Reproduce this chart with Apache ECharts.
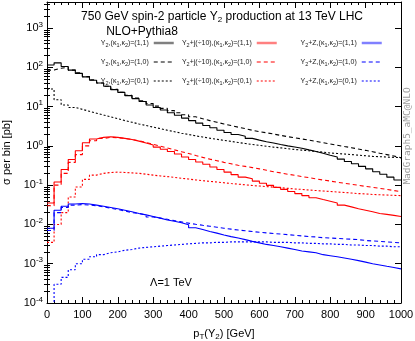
<!DOCTYPE html>
<html>
<head>
<meta charset="utf-8">
<script src="https://cdn.jsdelivr.net/npm/echarts@6.0.0/dist/echarts.min.js"></script>
<style>
  html, body { margin: 0; padding: 0; background: #fff; }
  #main { width: 415px; height: 341px; }
</style>
</head>
<body>
<div id="main"></div>
<script>
// bin edges: 20 GeV bins from 0 to 1000
var binEdges = [0, 20, 40, 60, 80, 100, 120, 140, 160, 180, 200, 220, 240, 260, 280, 300, 320, 340, 360, 380,
  400, 420, 440, 460, 480, 500, 520, 540, 560, 580, 600, 620, 640, 660, 680, 700, 720, 740, 760, 780,
  800, 820, 840, 860, 880, 900, 920, 940, 960, 980, 1000];

// Y2 alone
var y2_11 = [115, 130, 105, 85, 70, 57, 47, 40, 33, 27, 23, 19, 16, 13.5, 11, 9.5, 8.2, 7, 6, 5.1,
  4.4, 3.8, 3.3, 2.9, 2.5, 2.2, 1.95, 1.75, 1.55, 1.4, 1.28, 1.18, 1.08, 1.0, 0.94, 0.87, 0.79, 0.72, 0.65, 0.58,
  0.52, 0.46, 0.4, 0.35, 0.3, 0.26, 0.22, 0.19, 0.16, 0.135];
var y2_10 = [85, 95, 100, 85, 72, 58, 48, 40, 33, 27.5, 23, 19.5, 16.5, 14, 12, 10.3, 9, 7.9, 7, 6.2,
  5.5, 4.9, 4.4, 4.0, 3.6, 3.3, 3.0, 2.75, 2.5, 2.3, 2.15, 2.0, 1.85, 1.72, 1.6, 1.5, 1.4, 1.3, 1.2, 1.12,
  1.04, 0.96, 0.9, 0.83, 0.77, 0.71, 0.65, 0.6, 0.55, 0.5];
var y2_01 = [28, 15, 11, 9.5, 8.5, 7.6, 6.8, 6.1, 5.5, 4.9, 4.4, 4.0, 3.6, 3.3, 3.0, 2.75, 2.5, 2.3, 2.1, 1.95,
  1.8, 1.68, 1.57, 1.47, 1.38, 1.3, 1.22, 1.15, 1.09, 1.03, 0.98, 0.93, 0.89, 0.85, 0.81, 0.78, 0.75, 0.72, 0.69, 0.66,
  0.64, 0.62, 0.6, 0.58, 0.56, 0.54, 0.53, 0.52, 0.51, 0.5];

// Y2 + jet (divided by 10)
var y2j_11 = [0.035, 0.12, 0.25, 0.45, 0.75, 1.2, 1.5, 1.65, 1.7, 1.65, 1.55, 1.45, 1.32, 1.18, 1.05, 0.93, 0.82, 0.72, 0.62, 0.52,
  0.45, 0.39, 0.34, 0.29, 0.25, 0.215, 0.185, 0.16, 0.145, 0.127, 0.112, 0.099, 0.088, 0.078, 0.069, 0.061, 0.054, 0.048, 0.043, 0.039,
  0.035, 0.031, 0.028, 0.025, 0.023, 0.021, 0.019, 0.018, 0.017, 0.016];
var y2j_10 = [0.03, 0.1, 0.2, 0.38, 0.6, 1.0, 1.35, 1.55, 1.65, 1.62, 1.55, 1.45, 1.35, 1.22, 1.1, 0.98, 0.88, 0.79, 0.71, 0.64,
  0.57, 0.51, 0.46, 0.42, 0.38, 0.35, 0.32, 0.3, 0.28, 0.26, 0.24, 0.22, 0.205, 0.19, 0.178, 0.166, 0.155, 0.145, 0.135, 0.127,
  0.119, 0.112, 0.105, 0.099, 0.093, 0.088, 0.083, 0.078, 0.073, 0.068];
var y2j_01 = [0.0035, 0.01, 0.02, 0.05, 0.09, 0.14, 0.18, 0.2, 0.21, 0.215, 0.21, 0.205, 0.2, 0.19, 0.18, 0.172, 0.165, 0.158, 0.15, 0.143,
  0.136, 0.13, 0.125, 0.12, 0.115, 0.11, 0.106, 0.102, 0.098, 0.095, 0.092, 0.089, 0.086, 0.083, 0.08, 0.078, 0.075, 0.073, 0.071, 0.069,
  0.067, 0.065, 0.063, 0.061, 0.06, 0.058, 0.057, 0.056, 0.055, 0.054];

// Y2 + Z
var y2z_11 = [0.008, 0.023, 0.029, 0.033, 0.034, 0.033, 0.031, 0.029, 0.027, 0.025, 0.023, 0.021, 0.019, 0.0175, 0.016, 0.0145, 0.013, 0.012, 0.011, 0.0098,
  0.0082, 0.0074, 0.0066, 0.006, 0.0054, 0.0049, 0.0045, 0.0041, 0.0037, 0.0034, 0.0031, 0.0029, 0.0027, 0.0025, 0.0023, 0.0021, 0.002, 0.0019, 0.0017, 0.0016,
  0.0015, 0.0014, 0.0013, 0.0012, 0.0011, 0.001, 0.00093, 0.00086, 0.0008, 0.00074];
var y2z_10 = [0.007, 0.02, 0.027, 0.031, 0.032, 0.031, 0.03, 0.028, 0.026, 0.024, 0.022, 0.02, 0.019, 0.0175, 0.0155, 0.0145, 0.0135, 0.0125, 0.0116, 0.0108,
  0.0101, 0.0095, 0.009, 0.0085, 0.008, 0.0076, 0.0072, 0.0069, 0.0066, 0.0063, 0.0061, 0.0059, 0.0057, 0.0055, 0.0053, 0.0051, 0.0049, 0.0048, 0.0046, 0.0045,
  0.0044, 0.0043, 0.0042, 0.0041, 0.0039, 0.0038, 0.0037, 0.0036, 0.0035, 0.0034];
var y2z_01 = [0.00005, 0.0003, 0.00045, 0.0007, 0.001, 0.0013, 0.0015, 0.0017, 0.0019, 0.002, 0.0022, 0.0023, 0.0025, 0.0026, 0.0027, 0.0028, 0.0029, 0.003, 0.0031, 0.0032,
  0.0033, 0.0034, 0.0034, 0.0035, 0.0035, 0.0036, 0.0036, 0.0036, 0.0036, 0.0036, 0.0036, 0.0035, 0.0035, 0.0035, 0.0034, 0.0034, 0.0033, 0.0033, 0.0032, 0.0032,
  0.0031, 0.0031, 0.003, 0.003, 0.0029, 0.0029, 0.0028, 0.0028, 0.0027, 0.0027];

var xTicks = [0, 100, 200, 300, 400, 500, 600, 700, 800, 900, 1000];
var yMin = 1e-4, yMax = 4600;

var FONT = '"Liberation Sans", Arial, sans-serif';

// histogram -> step points (left edge of every bin + closing point at 1000)
function hist(vals) {
  var pts = vals.map(function (v, i) { return [binEdges[i], v]; });
  pts.push([binEdges[vals.length], vals[vals.length - 1]]);
  return pts;
}

// minor log ticks 2..9 per decade, given as log10 values for the helper axes
var minorLog = [];
for (var e = -4; e <= 3; e++) {
  for (var k = 2; k <= 9; k++) {
    var lv = e + Math.log10(k);
    if (lv <= Math.log10(yMax)) minorLog.push(lv);
  }
}

var sub = { fontSize: 5.5, lineHeight: 6, verticalAlign: 'bottom', fontFamily: FONT, color: '#222' };

var legendText = {
  'Y2 11': 'Y{s|2},(κ{s|1},κ{s|2})=(1,1)',
  'Y2 10': 'Y{s|2},(κ{s|1},κ{s|2})=(1,0)',
  'Y2 01': 'Y{s|2},(κ{s|1},κ{s|2})=(0,1)',
  'Y2j 11': 'Y{s|2}+j(÷10),(κ{s|1},κ{s|2})=(1,1)',
  'Y2j 10': 'Y{s|2}+j(÷10),(κ{s|1},κ{s|2})=(1,0)',
  'Y2j 01': 'Y{s|2}+j(÷10),(κ{s|1},κ{s|2})=(0,1)',
  'Y2Z 11': 'Y{s|2}+Z,(κ{s|1},κ{s|2})=(1,1)',
  'Y2Z 10': 'Y{s|2}+Z,(κ{s|1},κ{s|2})=(1,0)',
  'Y2Z 01': 'Y{s|2}+Z,(κ{s|1},κ{s|2})=(0,1)'
};

function mkSeries(name, data, color, type) {
  return {
    name: name,
    type: 'line',
    step: 'end',
    data: hist(data),
    symbol: 'none',
    yAxisIndex: 0,
    xAxisIndex: 0,
    color: color,
    lineStyle: { color: color, width: 1.1, type: type },
    animation: false,
    z: 3
  };
}

// solid entries get a thick pale sample, like the reference key
function mkLegend(names, pale, right, textW) {
  return {
    orient: 'vertical',
    right: right,
    top: 38,
    padding: 0,
    align: 'right',
    itemWidth: 20,
    itemHeight: 8,
    itemGap: 9,
    data: [
      { name: names[0], lineStyle: { width: 2.5, color: pale } },
      { name: names[1], lineStyle: { width: 1.1 } },
      { name: names[2], lineStyle: { width: 1.1 } }
    ],
    itemStyle: { opacity: 0 },
    formatter: function (n) { return legendText[n]; },
    textStyle: { fontSize: 7, lineHeight: 10, fontFamily: FONT, color: '#222', width: textW, align: 'left', rich: { s: sub } }
  };
}

var chart = echarts.init(document.getElementById('main'));

var xBase = {
  type: 'value', min: 0, max: 1000, interval: 100,
  axisLine: { show: true, onZero: false, lineStyle: { color: '#000', width: 1 } },
  axisTick: { show: true, inside: true, length: 6, lineStyle: { color: '#000' } },
  minorTick: { show: true, splitNumber: 5, length: 3, lineStyle: { color: '#000' } },
  splitLine: { show: false }
};

var yMajor = {
  type: 'log', logBase: 10, min: yMin, max: yMax,
  axisLine: { show: true, onZero: false, lineStyle: { color: '#000', width: 1 } },
  axisTick: { show: true, inside: true, length: 6, lineStyle: { color: '#000' } },
  splitLine: { show: false }
};

var yMinor = {
  type: 'value', min: -4, max: Math.log10(yMax),
  axisLine: { show: false },
  axisTick: { show: true, inside: true, length: 3, customValues: minorLog, lineStyle: { color: '#000' } },
  axisLabel: { show: false },
  splitLine: { show: false }
};

chart.setOption({
  backgroundColor: '#fff',
  textStyle: { fontFamily: FONT },
  grid: { left: 47, right: 14, top: 2, bottom: 38, containLabel: false, outerBoundsMode: 'none' },
  legend: [
    mkLegend(['Y2 11', 'Y2 10', 'Y2 01'], '#808080', 240, 57),
    mkLegend(['Y2j 11', 'Y2j 10', 'Y2j 01'], '#ff8080', 137, 78),
    mkLegend(['Y2Z 11', 'Y2Z 10', 'Y2Z 01'], '#8080ff', 32, 63)
  ],
  xAxis: [
    Object.assign({}, xBase, {
      position: 'bottom',
      axisLabel: { show: true, fontSize: 11, color: '#000', margin: 6, fontFamily: FONT,
        customValues: xTicks, formatter: function (v) { return String(v); } },
      name: 'p{s|T}(Y{s|2}) [GeV]',
      nameLocation: 'middle',
      nameGap: 24,
      nameTextStyle: { fontSize: 11, color: '#000', lineHeight: 14, fontFamily: FONT,
        rich: { s: { fontSize: 8, lineHeight: 8, verticalAlign: 'bottom', color: '#000', fontFamily: FONT } } }
    }),
    Object.assign({}, xBase, { position: 'top', axisLabel: { show: false } })
  ],
  yAxis: [
    Object.assign({}, yMajor, {
      position: 'left',
      axisLabel: {
        show: true, margin: 4, showMaxLabel: false, color: '#000',
        formatter: function (v) {
          var p = Math.round(Math.log10(v));
          return '{b|10}{s|' + p + '}';
        },
        rich: {
          b: { fontSize: 11, lineHeight: 15, color: '#000', fontFamily: FONT },
          s: { fontSize: 8, lineHeight: 8, verticalAlign: 'top', color: '#000', fontFamily: FONT }
        }
      },
      name: 'σ per bin [pb]',
      nameLocation: 'middle',
      nameRotate: 90,
      nameGap: 33,
      nameTextStyle: { fontSize: 11, color: '#000', fontFamily: FONT }
    }),
    Object.assign({}, yMinor, { position: 'left' }),
    Object.assign({}, yMajor, { position: 'right', axisLabel: { show: false } }),
    Object.assign({}, yMinor, { position: 'right' })
  ],
  graphic: [
    {
      type: 'text', x: 222, y: 17,
      style: { text: '750 GeV spin-2 particle Y{s|2} production at 13 TeV LHC', fill: '#000',
        fontSize: 12, fontFamily: FONT, align: 'center', verticalAlign: 'middle', lineHeight: 14,
        rich: { s: { fontSize: 8, lineHeight: 8, verticalAlign: 'bottom', fontFamily: FONT, fill: '#000' } } }
    },
    {
      type: 'text', x: 142, y: 32,
      style: { text: 'NLO+Pythia8', fill: '#000', fontSize: 12, fontFamily: FONT, align: 'center', verticalAlign: 'middle' }
    },
    {
      type: 'text', x: 171, y: 283,
      style: { text: 'Λ=1 TeV', fill: '#000', fontSize: 11, fontFamily: FONT, align: 'center', verticalAlign: 'middle' }
    },
    {
      type: 'text', x: 408, y: 136, rotation: Math.PI / 2,
      style: { text: 'MadGraph5_aMC@NLO', fill: '#9a9a9a', fontSize: 9.5, fontFamily: '"DejaVu Sans Mono", monospace',
        align: 'center', verticalAlign: 'middle' }
    }
  ],
  series: [
    mkSeries('Y2 11', y2_11, '#000000', 'solid'),
    mkSeries('Y2 10', y2_10, '#000000', [4, 3]),
    mkSeries('Y2 01', y2_01, '#000000', [2, 2]),
    mkSeries('Y2j 11', y2j_11, '#ff0000', 'solid'),
    mkSeries('Y2j 10', y2j_10, '#ff0000', [4, 3]),
    mkSeries('Y2j 01', y2j_01, '#ff0000', [2, 2]),
    mkSeries('Y2Z 11', y2z_11, '#0000ff', 'solid'),
    mkSeries('Y2Z 10', y2z_10, '#0000ff', [4, 3]),
    mkSeries('Y2Z 01', y2z_01, '#0000ff', [2, 2])
  ]
});

window.addEventListener('resize', function () {
  chart.resize();
});
</script>
</body>
</html>
